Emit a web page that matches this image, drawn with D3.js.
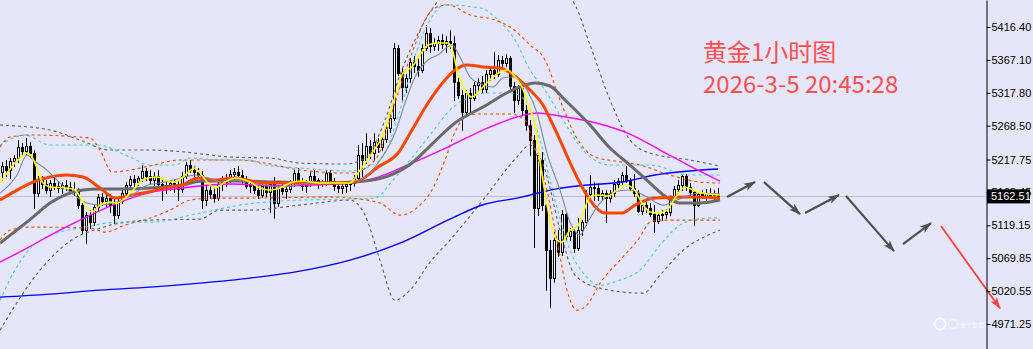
<!DOCTYPE html>
<html>
<head>
<meta charset="utf-8">
<script src="https://cdn.jsdelivr.net/npm/d3@7"></script>
<style>
  html, body { margin: 0; padding: 0; background: #e6e6fa; }
  svg { display: block; }
</style>
</head>
<body>
<svg id="chart" width="1033" height="349"></svg>
<script>
// XAUUSD 1-hour candles
const opens = [
  5199,5208,5202,5215,5220,5236,5230,5238,5227,5167,
  5187,5181,5172,5182,5178,5175,5179,5176,5172,5169,
  5149,5112,5134,5124,5146,5161,5155,5160,5149,5134,
  5155,5167,5179,5188,5184,5190,5200,5193,5187,5193,
  5181,5175,5179,5182,5176,5173,5193,5210,5202,5199,
  5194,5157,5172,5166,5160,5181,5184,5190,5196,5199,
  5194,5187,5178,5179,5172,5164,5178,5169,5181,5152,
  5175,5170,5173,5182,5197,5185,5178,5182,5193,5187,
  5181,5182,5197,5185,5178,5175,5178,5181,5182,5190,
  5224,5217,5238,5227,5244,5236,5248,5265,5280,5385,
  5347,5327,5340,5364,5358,5352,5385,5407,5388,5392,
  5397,5391,5395,5392,5334,5314,5289,5317,5310,5329,
  5334,5323,5346,5352,5346,5367,5362,5370,5328,5307,
  5325,5292,5269,5247,5145,5217,5149,5082,5040,5097,
  5079,5136,5103,5110,5085,5112,5124,5166,5176,5175,
  5163,5167,5160,5167,5181,5185,5194,5187,5175,5167,
  5140,5149,5145,5136,5125,5134,5136,5139,5160,5173,
  5179,5193,5176,5169,5149,5166,5163,5167,5164,5166
];
const highs = [
  5214,5217,5220,5224,5247,5242,5250,5244,5232,5193,
  5193,5187,5187,5190,5185,5184,5187,5184,5184,5175,
  5152,5139,5142,5151,5166,5167,5164,5166,5160,5160,
  5172,5184,5193,5194,5193,5209,5205,5202,5199,5202,
  5190,5184,5187,5188,5187,5199,5214,5217,5208,5205,
  5200,5179,5178,5175,5187,5193,5196,5202,5205,5208,
  5202,5193,5187,5185,5179,5182,5184,5185,5191,5179,
  5181,5179,5187,5202,5205,5190,5187,5199,5202,5190,
  5187,5202,5202,5190,5184,5182,5185,5185,5194,5240,
  5242,5257,5247,5257,5250,5253,5269,5287,5392,5389,
  5355,5346,5370,5373,5370,5391,5419,5415,5400,5403,
  5406,5403,5412,5403,5340,5322,5322,5325,5334,5340,
  5343,5352,5358,5379,5374,5373,5376,5373,5334,5329,
  5331,5299,5277,5254,5232,5229,5160,5097,5109,5112,
  5142,5139,5115,5115,5130,5127,5172,5194,5184,5182,
  5172,5172,5172,5187,5190,5199,5208,5190,5196,5172,
  5157,5154,5152,5149,5139,5142,5143,5164,5178,5187,
  5196,5196,5182,5172,5169,5172,5173,5175,5172,5175
];
const lows = [
  5187,5193,5190,5208,5214,5224,5226,5221,5145,5163,
  5175,5167,5163,5173,5169,5167,5172,5167,5164,5145,
  5107,5092,5115,5119,5142,5150,5148,5139,5122,5130,
  5152,5163,5173,5178,5179,5185,5187,5181,5179,5173,
  5157,5167,5172,5169,5157,5169,5190,5199,5193,5190,
  5145,5150,5160,5154,5157,5172,5178,5184,5190,5190,
  5181,5175,5169,5167,5160,5161,5163,5139,5130,5148,
  5166,5160,5169,5178,5181,5172,5169,5178,5184,5175,
  5178,5179,5181,5172,5169,5167,5169,5172,5178,5187,
  5193,5212,5220,5217,5229,5232,5244,5259,5277,5344,
  5307,5319,5334,5349,5343,5349,5382,5379,5382,5382,
  5385,5379,5385,5307,5310,5262,5284,5289,5307,5322,
  5319,5319,5337,5340,5343,5358,5358,5322,5289,5301,
  5284,5262,5224,5086,5134,5142,5022,4997,5034,5073,
  5074,5097,5097,5079,5082,5104,5119,5160,5157,5157,
  5157,5124,5154,5163,5175,5181,5184,5172,5163,5139,
  5136,5139,5133,5109,5122,5127,5130,5134,5157,5169,
  5172,5172,5163,5120,5148,5160,5157,5160,5158,5161
];
const closes = [
  5208,5202,5215,5220,5236,5230,5238,5227,5167,5187,
  5181,5172,5182,5178,5175,5179,5176,5172,5169,5149,
  5112,5134,5124,5146,5161,5155,5160,5149,5134,5155,
  5167,5179,5188,5184,5190,5200,5193,5187,5193,5181,
  5175,5179,5182,5176,5173,5193,5210,5202,5199,5194,
  5157,5172,5166,5160,5181,5184,5190,5196,5199,5194,
  5187,5178,5179,5172,5164,5178,5169,5181,5152,5175,
  5170,5173,5182,5197,5185,5178,5182,5193,5187,5181,
  5182,5197,5185,5178,5175,5178,5181,5182,5190,5224,
  5217,5238,5227,5244,5236,5248,5265,5280,5385,5347,
  5327,5340,5364,5358,5352,5385,5407,5388,5392,5397,
  5391,5395,5392,5334,5314,5289,5317,5310,5329,5334,
  5323,5346,5352,5346,5367,5362,5370,5328,5307,5325,
  5292,5269,5247,5145,5224,5149,5082,5040,5097,5079,
  5136,5103,5110,5085,5112,5124,5166,5176,5175,5163,
  5167,5160,5167,5181,5185,5194,5187,5175,5167,5140,
  5149,5145,5136,5125,5134,5136,5139,5160,5173,5179,
  5193,5176,5169,5149,5166,5163,5167,5164,5166,5162.51
];

// Indicator lines, [bar index, price]
const maFast = [[-0.5,5182.5],[1.25,5197.5],[2.75,5209.5],[4.5,5220],[6.25,5227.5],[7.5,5221.5],[8.75,5205],[10.25,5182.5],[12,5176.5],[16.25,5175],[18.25,5172],[20.25,5154],[22.5,5139],[24.5,5149.5],[27,5154],[28.75,5152.5],[30.75,5160],[33.25,5175],[35,5187],[36.5,5190],[39,5191.5],[40.75,5187],[43.25,5184],[45.75,5194.5],[48.25,5205],[49.5,5197.5],[51.5,5182.5],[53.25,5175],[55.75,5184],[58.25,5190],[62,5184],[64.5,5175],[67,5172],[69.5,5175],[72,5182.5],[74.5,5185.5],[79.5,5182.5],[84.5,5182.5],[87,5182.5],[89,5197.5],[92.5,5227.5],[95,5251.5],[96.5,5277],[98.25,5311.5],[100.25,5347.5],[102.5,5356.5],[105,5379],[106.5,5389.5],[109,5392.5],[111.5,5392.5],[112.75,5379],[113.75,5352],[115.75,5322],[117.5,5311.5],[119.5,5322],[122,5337],[124.5,5349],[126.5,5352],[128.25,5341.5],[130,5326.5],[132,5292],[133.25,5272.5],[134,5236.5],[135.75,5167.5],[137,5127],[138.75,5097],[140,5094],[142,5112],[143.75,5116.5],[145.25,5137.5],[147,5161.5],[149,5164.5],[151.5,5163],[153.75,5172],[155.75,5179.5],[157.75,5175],[160,5152.5],[162,5139],[164,5137.5],[166.25,5142],[168.25,5160],[170.75,5176.5],[172.75,5172],[175,5167.5],[179.5,5164.5]];
const maSlowThin = [[-0.5,5167.5],[3.75,5194.5],[6.25,5224.5],[7.75,5217],[11.25,5202],[14.5,5182.5],[18.75,5161.5],[21.25,5152.5],[24.5,5149.5],[27.75,5152.5],[32.5,5164.5],[36.5,5179.5],[40.75,5184],[45,5190],[48.25,5194.5],[51.5,5190],[55,5184],[58.25,5187],[65.25,5179.5],[69.5,5176.5],[77.75,5182.5],[85.75,5182.5],[90.75,5191.5],[94,5212.5],[98.25,5257.5],[100.75,5302.5],[103.25,5341.5],[106.5,5367],[109,5374.5],[112.5,5389.5],[114.5,5371.5],[117,5341.5],[120.25,5329.5],[122.75,5326.5],[125.25,5340],[127.75,5341.5],[131.25,5322],[133.75,5287.5],[136.25,5227.5],[139.5,5172],[142,5124],[144.5,5104.5],[146.25,5122.5],[149.5,5152.5],[152.75,5169],[157,5172],[161.25,5161.5],[165.25,5149.5],[168.75,5157],[174.5,5167.5],[179.5,5166]];
const ma20 = [[-0.5,5157],[3.75,5172],[7.75,5184],[12,5191.5],[16.25,5194.5],[20.25,5191.5],[24.5,5175],[28.25,5160],[32.5,5164.5],[36.5,5169],[40.75,5175],[45,5179.5],[49,5190],[53.25,5187],[58.25,5190],[65.25,5182.5],[73.75,5182.5],[82,5182.5],[88.25,5184],[94,5206.5],[99,5227.5],[102.5,5262],[106.5,5302.5],[110.75,5337],[113.25,5352],[116.25,5359.5],[120.25,5356.5],[124.5,5355],[128.75,5340],[132,5322],[135.25,5299.5],[137.75,5269.5],[139.5,5247],[141.5,5220],[144.5,5182.5],[147,5157],[150.75,5137.5],[155,5137.5],[158.25,5149.5],[163.25,5160],[172,5161.5],[179.5,5160]];
const ma50 = [[-0.5,5092.5],[7.75,5131.5],[12,5152.5],[16.25,5166],[20.25,5172],[24.5,5173.5],[29.5,5173.5],[37,5175],[45,5179.5],[50,5185.5],[58.25,5185.5],[69.5,5184],[82,5182.5],[88.25,5184],[96.5,5193],[102.5,5212.5],[107.5,5241],[113.25,5272.5],[120.25,5296.5],[128.75,5325],[133.25,5332.5],[137,5328],[140.75,5307],[147,5269.5],[152,5235],[157,5209.5],[162,5182.5],[165.75,5163],[169.5,5152.5],[174.5,5152.5],[179.5,5157]];
const ma100 = [[-0.5,5064],[6.25,5085],[14.5,5112],[19.5,5127],[28.25,5151],[36.5,5167.5],[45,5175],[57,5181],[69.5,5178],[77.75,5179.5],[87,5182.5],[94,5191.5],[102.5,5212.5],[112,5238],[120.25,5262],[128.75,5281.5],[133.75,5287.5],[139.5,5283],[149.5,5271],[157,5256],[164.5,5232],[172,5208],[179.5,5185.5]];
const ma200 = [[-0.5,5011.5],[12,5016],[24.5,5022],[37,5026.5],[49.5,5032.5],[62,5040],[74.5,5050.5],[87,5067],[99.5,5092.5],[112,5128.5],[120.25,5150],[128.75,5160],[132,5164.5],[138.25,5173.5],[146.5,5179.5],[155,5184],[163.25,5194.5],[179,5203.5]];

// Envelope bands (dotted)
const redUpper = [[-0.5,5236.5],[2,5251.5],[7,5254.5],[22,5250],[24.5,5232],[27.5,5199],[32,5202],[37,5208],[44.5,5217],[59.5,5217],[65.75,5212.5],[74.5,5202],[87,5197.5],[93.25,5217],[98.25,5302.5],[100.75,5349],[103.25,5389.5],[105.75,5427],[108.25,5445],[111.5,5449.5],[117,5434.5],[123.25,5427],[127,5416.5],[132,5389.5],[135.75,5367],[139.5,5307],[143.25,5254.5],[148.25,5221.5],[153.25,5215.5],[159.5,5209.5],[167,5194.5],[174.5,5184],[179.5,5182.5]];
const redLower = [[-0.5,5097],[2,5112],[7,5116.5],[22,5115],[25.75,5109],[30.75,5119.5],[37,5130],[42,5142],[47,5157],[52,5160],[62,5160],[82,5161.5],[87,5160],[94.5,5152.5],[99.5,5134.5],[104.5,5149.5],[107.5,5172],[110.75,5217],[113.25,5259],[116.25,5283],[119.5,5286],[127,5286],[130.75,5277],[133.25,5232],[136.25,5172],[138.75,5097],[141.25,5022],[143.75,4992],[146.25,4999.5],[149.5,5032.5],[154.5,5067],[159.5,5101.5],[162,5124],[164.5,5127],[179.5,5127]];
const cyanUpper = [[-0.5,5239.5],[5.75,5254.5],[12,5239.5],[23.75,5239.5],[32,5221.5],[37,5209.5],[43.25,5209.5],[47,5220],[54.5,5217],[62,5217],[65.75,5209.5],[74.5,5205],[87,5200.5],[94.5,5217],[99.5,5292],[103.75,5382],[107,5427],[110.75,5449.5],[119.5,5445],[124.5,5424],[128.25,5397],[132,5352],[135.75,5322],[139.5,5284.5],[145.75,5229],[152,5209.5],[162,5209.5],[172,5194.5],[179.5,5194.5]];
const cyanLower = [[-0.5,5007],[3.25,5052],[9.5,5097],[22,5118],[28.75,5124],[37,5124],[49.5,5137.5],[59.5,5149.5],[74.5,5157],[87,5158.5],[93.25,5160],[97.75,5187],[102,5217],[107,5254.5],[112,5292],[117,5311.5],[122,5317.5],[127,5317.5],[130.75,5307],[134.5,5247],[138.25,5157],[142,5082],[145.75,5044.5],[149.5,5029.5],[154.5,5037],[159.5,5052],[164.5,5089.5],[169.5,5119.5],[174.5,5129],[179.5,5130.5]];
const greyUpper = [[-0.5,5269.5],[12,5262],[19.5,5247],[27,5232],[37,5232],[45.75,5229],[57,5221.5],[67,5220],[74.5,5212.5],[85.75,5211],[90.75,5220],[95.75,5277],[99.5,5344.5],[104.5,5412],[108.25,5449.5],[112,5472],[139.5,5472],[143.25,5449.5],[147,5389.5],[152,5307],[157,5247],[162,5227.5],[172,5217],[179.5,5208]];
const greyLower = [[-0.5,4962],[9.5,5052],[17,5095.5],[24.5,5115],[37,5127],[49.5,5128.5],[54.5,5142],[62,5142],[74.5,5149.5],[87,5157],[90.75,5134.5],[94.5,5067],[98.25,5007],[102,5022],[107,5064],[112,5097],[120.25,5157],[128.75,5221.5],[132,5239.5],[135.75,5202],[139.5,5112],[143.25,5044.5],[149.5,5025],[160.25,5017.5],[164.5,5044.5],[169.5,5077.5],[179.5,5112]];

// Forecast path drawn to the right of the last bar, [bar index, price]
const forecastArrows = [
  [[181.25,5161.5],[188.25,5184]],
  [[190.5,5184],[199.5,5136]],
  [[200.75,5137.5],[209.25,5164.5]],
  [[211,5163],[223,5080.5]],
  [[225.25,5091],[232.25,5122.5]]
];
const targetArrow = [[234.75,5118],[249.5,4995]];

const priceTicks = [5416.40,5367.10,5317.80,5268.50,5217.75,5168.45,5119.15,5069.85,5020.55,4971.25];
const lastPrice = 5162.51;
const titleLines = ["黄金1小时图", "2026-3-5 20:45:28"];

const W = 1033, H = 349, axisX = 986;
const svg = d3.select("#chart");

const x = d3.scaleLinear().domain([0, 179]).range([2, 718]);
const y = d3.scaleLinear().domain([4933.8, 5456.87]).range([H, 0]);

svg.append("rect").attr("width", W).attr("height", H).attr("fill", "#e6e6fa");

svg.append("defs").append("clipPath").attr("id", "plotClip")
  .append("rect").attr("x", 0).attr("y", 0).attr("width", axisX).attr("height", H);

const plot = svg.append("g").attr("clip-path", "url(#plotClip)");

// Bid line
const py = Math.round(y(lastPrice)) + 0.5;
plot.append("line").attr("x1", 0).attr("x2", axisX).attr("y1", py).attr("y2", py)
  .attr("stroke", "#c0c0c0").attr("stroke-width", 1);

// Candles
const bars = d3.range(closes.length).map(i => ({i, o: opens[i], h: highs[i], l: lows[i], c: closes[i]}));
const cg = plot.append("g").attr("shape-rendering", "crispEdges");
bars.forEach(b => {
  const cx = Math.round(x(b.i));
  cg.append("line")
    .attr("x1", cx + 0.5).attr("x2", cx + 0.5)
    .attr("y1", Math.round(y(b.h))).attr("y2", Math.round(y(b.l)) + 1)
    .attr("stroke", "#000").attr("stroke-width", 1);
  const top = Math.round(y(Math.max(b.o, b.c))) + 0.5;
  const bot = Math.round(y(Math.min(b.o, b.c))) + 0.5;
  cg.append("rect")
    .attr("x", cx - 0.5).attr("y", top)
    .attr("width", 2).attr("height", Math.max(bot - top, 0))
    .attr("fill", b.c >= b.o ? "#ffffff" : "#000000")
    .attr("stroke", "#000").attr("stroke-width", 1);
});

const line = d3.line().x(d => x(d[0])).y(d => y(d[1])).curve(d3.curveMonotoneX);

// Dotted bands
[
  [greyUpper, "#5f5f5f"], [greyLower, "#5f5f5f"],
  [cyanUpper, "#3fcfcf"], [cyanLower, "#3fcfcf"],
  [redUpper, "#ff4500"], [redLower, "#ff4500"]
].forEach(([d, col]) => {
  plot.append("path").datum(d).attr("d", line)
    .attr("fill", "none").attr("stroke", col).attr("stroke-width", 1.1)
    .attr("stroke-dasharray", "3,3");
});

// Moving averages
[
  [ma200, "#0000ff", 1.4],
  [ma100, "#ff00ff", 1.4],
  [ma50, "#6a6a6a", 3],
  [ma20, "#ff4500", 3],
  [maSlowThin, "#7a8a9a", 1.1],
  [maFast, "#ffff00", 1.6]
].forEach(([d, col, w]) => {
  plot.append("path").datum(d).attr("d", line)
    .attr("fill", "none").attr("stroke", col).attr("stroke-width", w)
    .attr("stroke-linejoin", "round");
});

// Arrow markers
const defs = svg.select("defs");
function marker(id, col) {
  defs.append("marker").attr("id", id)
    .attr("viewBox", "0 0 12 10").attr("refX", 11).attr("refY", 5)
    .attr("markerUnits", "userSpaceOnUse")
    .attr("markerWidth", 15).attr("markerHeight", 10)
    .attr("orient", "auto")
    .append("path").attr("d", "M0,1 L12,5 L0,9 L3,5 Z").attr("fill", col);
}
marker("headGrey", "#505050");
marker("headRed", "#ff4040");

const ag = svg.append("g");
forecastArrows.forEach(seg => {
  ag.append("line")
    .attr("x1", x(seg[0][0])).attr("y1", y(seg[0][1]))
    .attr("x2", x(seg[1][0])).attr("y2", y(seg[1][1]))
    .attr("stroke", "#505050").attr("stroke-width", 2.2)
    .attr("marker-end", "url(#headGrey)");
});
ag.append("line")
  .attr("x1", x(targetArrow[0][0])).attr("y1", y(targetArrow[0][1]))
  .attr("x2", x(targetArrow[1][0])).attr("y2", y(targetArrow[1][1]))
  .attr("stroke", "#ff4040").attr("stroke-width", 1.8)
  .attr("marker-end", "url(#headRed)");

// Title
const tg = svg.append("g")
  .attr("font-family", "'Noto Sans CJK SC', 'Noto Sans', sans-serif")
  .attr("font-size", 24).attr("fill", "#ff4f4f");
tg.append("text").attr("x", 703).attr("y", 61).text(titleLines[0]);
tg.append("text").attr("x", 703).attr("y", 93).text(titleLines[1]);

// Watermark
const wm = svg.append("g").attr("opacity", 0.75);
wm.append("circle").attr("cx", 940).attr("cy", 324).attr("r", 5.5)
  .attr("fill", "none").attr("stroke", "#fff").attr("stroke-width", 2);
wm.append("circle").attr("cx", 953).attr("cy", 324).attr("r", 4.5)
  .attr("fill", "none").attr("stroke", "#f4f4f4").attr("stroke-width", 1.5);
wm.append("text").attr("x", 960).attr("y", 327)
  .attr("font-family", "'Noto Sans CJK SC', sans-serif").attr("font-size", 6)
  .attr("fill", "#ffffff").text("金十数据");

// Price axis
const axis = d3.axisRight(y).tickValues(priceTicks)
  .tickFormat(d3.format(".2f")).tickSize(4).tickSizeOuter(0).tickPadding(1);
const ax = svg.append("g").attr("transform", `translate(${axisX + 0.5},0)`).call(axis);
ax.select(".domain").attr("stroke", "#000");
ax.selectAll(".tick line").attr("stroke", "#000");
ax.selectAll(".tick text")
  .attr("font-family", "'Liberation Sans', Arial, sans-serif")
  .attr("font-size", 11).attr("fill", "#000");

// Last price tag
const tag = svg.append("g");
tag.append("rect").attr("x", axisX + 1).attr("y", y(lastPrice) - 7)
  .attr("width", 43).attr("height", 14).attr("fill", "#000");
tag.append("text").attr("x", axisX + 5).attr("y", y(lastPrice)).attr("dy", "0.35em")
  .attr("font-family", "'Liberation Sans', Arial, sans-serif")
  .attr("font-size", 11).attr("fill", "#fff").text(d3.format(".2f")(lastPrice));
</script>
</body>
</html>
